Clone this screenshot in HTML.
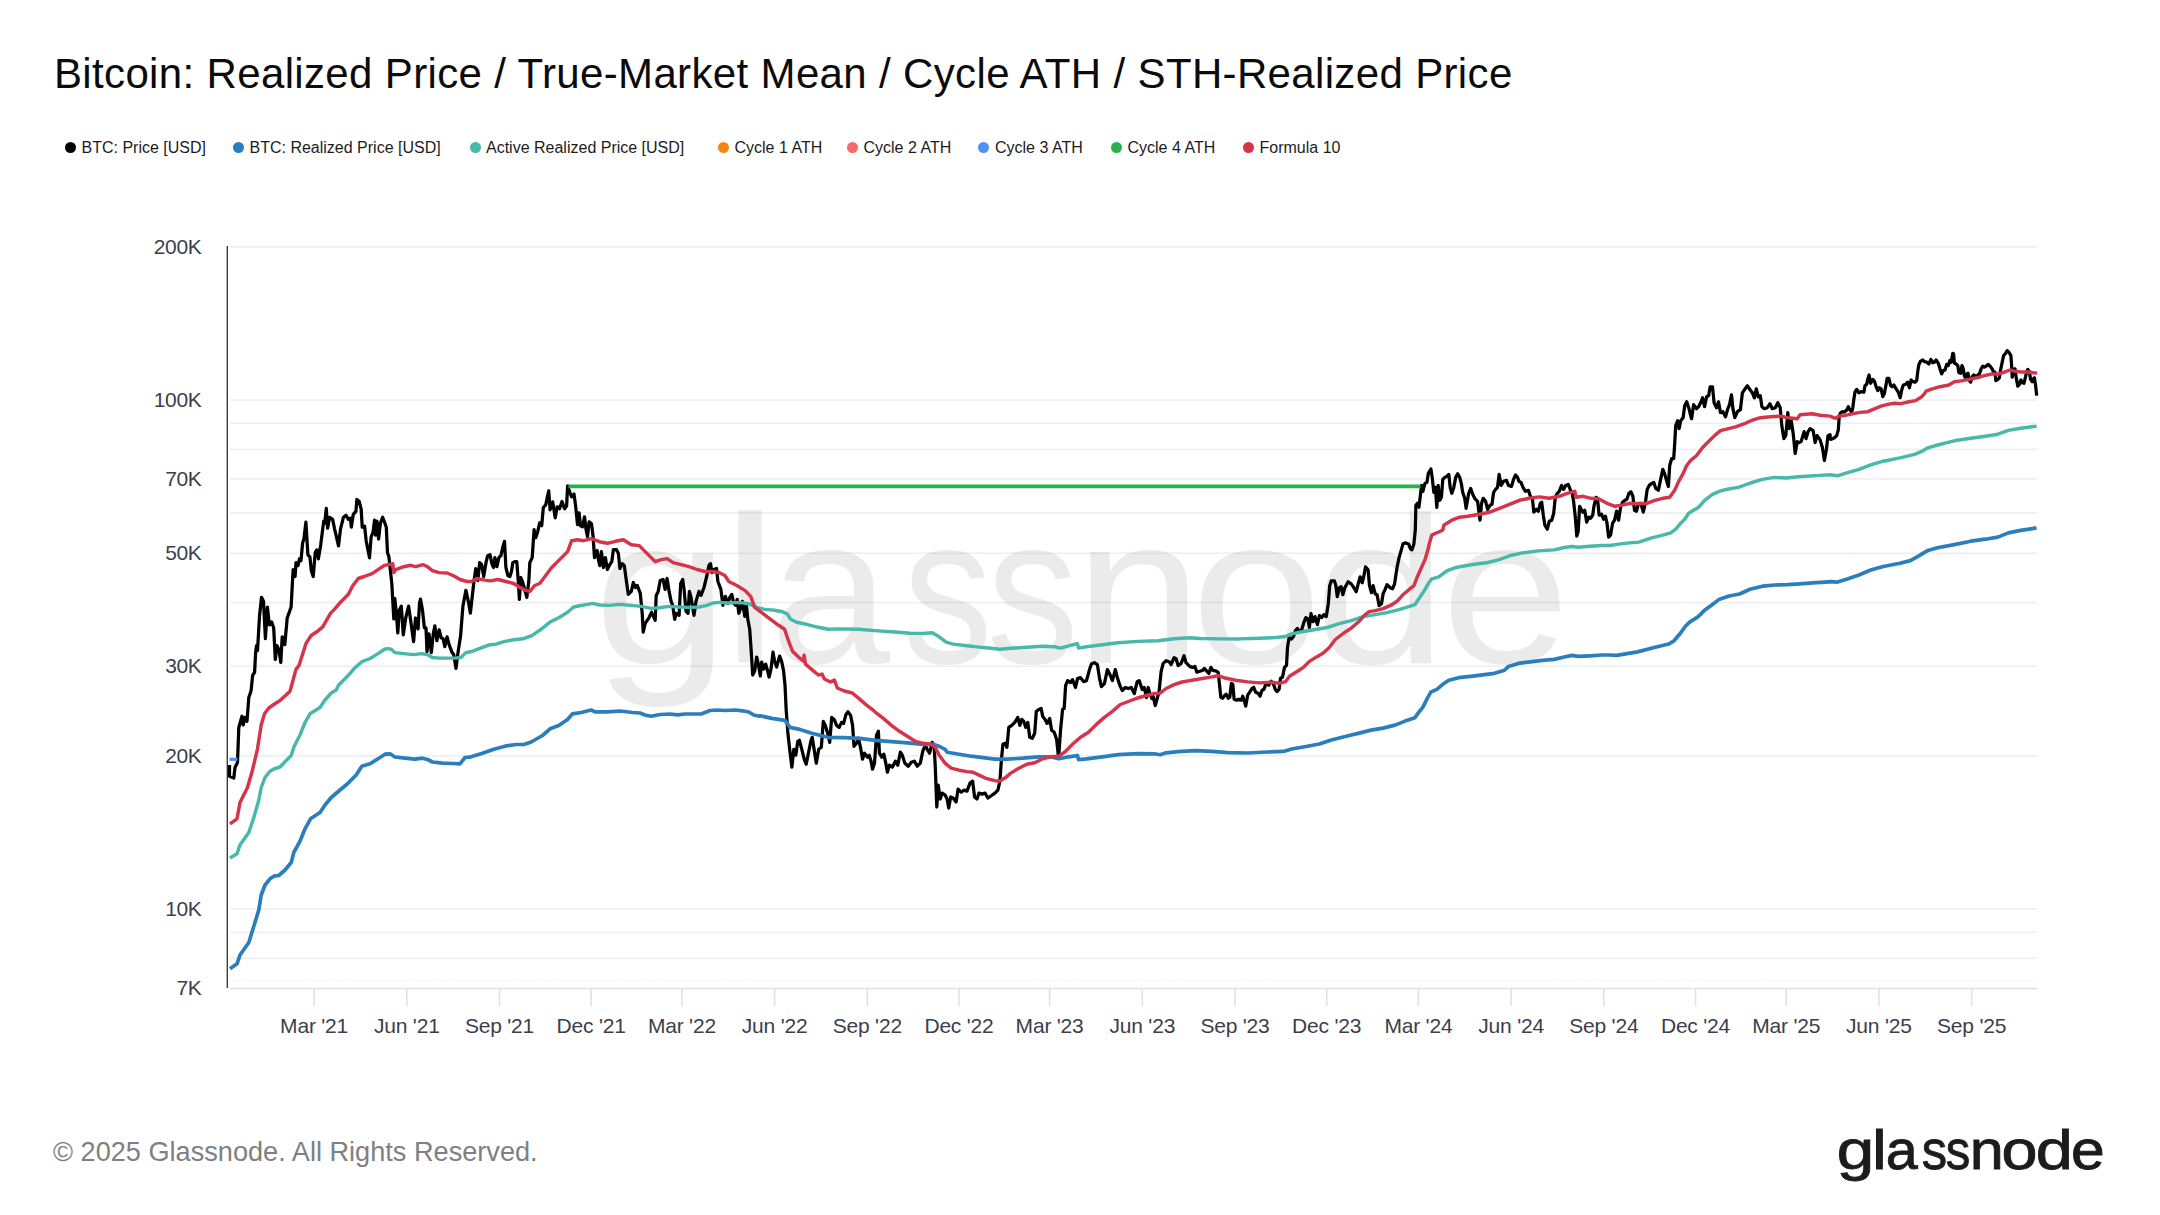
<!DOCTYPE html>
<html lang="en"><head><meta charset="utf-8"><title>Bitcoin: Realized Price / True-Market Mean / Cycle ATH / STH-Realized Price</title>
<style>
html,body{margin:0;padding:0;background:#fff;}
body{width:2160px;height:1215px;position:relative;overflow:hidden;font-family:"Liberation Sans",Arial,sans-serif;}
.title{position:absolute;left:54px;top:47px;font-size:42px;line-height:54px;color:#0b0b0b;letter-spacing:0.35px;white-space:nowrap;}
.legend{position:absolute;left:0;top:138px;height:20px;font-size:16px;line-height:20px;color:#1c1c1c;white-space:nowrap;}
.legend .it{position:absolute;top:0;}
.legend .dot{position:absolute;top:4px;width:11px;height:11px;border-radius:50%;}
.foot{position:absolute;left:53px;top:1135px;font-size:27.15px;line-height:34px;color:#808080;white-space:nowrap;}
.logo{position:absolute;left:1836px;top:1115px;font-size:58px;line-height:66px;color:#1b1b1b;white-space:nowrap;-webkit-text-stroke:1.1px #1b1b1b;}
svg{position:absolute;left:0;top:0;}
.yl{font-size:21px;letter-spacing:-0.4px;fill:#3a3f4b;text-anchor:end;}
.xl{font-size:21px;letter-spacing:-0.2px;fill:#3a3f4b;text-anchor:middle;}
.wm{font-size:209px;fill:#e9e9e9;}
</style></head><body>
<div class="title">Bitcoin: Realized Price / True-Market Mean / Cycle ATH / STH-Realized Price</div>
<div class="legend">
<span class="dot" style="left:64.5px;background:#000000"></span><span class="it" style="left:81.5px">BTC: Price [USD]</span>
<span class="dot" style="left:233.0px;background:#2b7ebc"></span><span class="it" style="left:249.5px">BTC: Realized Price [USD]</span>
<span class="dot" style="left:469.5px;background:#47b8a9"></span><span class="it" style="left:486px">Active Realized Price [USD]</span>
<span class="dot" style="left:718.0px;background:#f7860f"></span><span class="it" style="left:734.5px">Cycle 1 ATH</span>
<span class="dot" style="left:847.0px;background:#f56b6e"></span><span class="it" style="left:863.5px">Cycle 2 ATH</span>
<span class="dot" style="left:978.0px;background:#4f8ff7"></span><span class="it" style="left:995px">Cycle 3 ATH</span>
<span class="dot" style="left:1110.5px;background:#25b24c"></span><span class="it" style="left:1127.5px">Cycle 4 ATH</span>
<span class="dot" style="left:1242.5px;background:#d4354b"></span><span class="it" style="left:1259.5px">Formula 10</span>
</div>
<svg width="2160" height="1215" viewBox="0 0 2160 1215" font-family="Liberation Sans, Arial, sans-serif">
<text font-size="210" fill="#ebebeb" y="662.5"><tspan x="593.77" textLength="135.28" lengthAdjust="spacingAndGlyphs">g</tspan><tspan x="720.89" textLength="58.06" lengthAdjust="spacingAndGlyphs">l</tspan><tspan x="769.92" textLength="120.09" lengthAdjust="spacingAndGlyphs">a</tspan><tspan x="902.98" textLength="89.55" lengthAdjust="spacingAndGlyphs">s</tspan><tspan x="986.85" textLength="91.88" lengthAdjust="spacingAndGlyphs">s</tspan><tspan x="1075.07" textLength="126.93" lengthAdjust="spacingAndGlyphs">n</tspan><tspan x="1191.10" textLength="130.90" lengthAdjust="spacingAndGlyphs">o</tspan><tspan x="1313.96" textLength="132.78" lengthAdjust="spacingAndGlyphs">d</tspan><tspan x="1441.28" textLength="128.52" lengthAdjust="spacingAndGlyphs">e</tspan></text>
<rect x="230" y="246.03" width="1807" height="1.6" fill="#000" fill-opacity="0.068"/>
<rect x="230" y="399.25" width="1807" height="1.6" fill="#000" fill-opacity="0.068"/>
<rect x="230" y="422.54" width="1807" height="1.6" fill="#000" fill-opacity="0.068"/>
<rect x="230" y="448.58" width="1807" height="1.6" fill="#000" fill-opacity="0.068"/>
<rect x="230" y="478.10" width="1807" height="1.6" fill="#000" fill-opacity="0.068"/>
<rect x="230" y="512.17" width="1807" height="1.6" fill="#000" fill-opacity="0.068"/>
<rect x="230" y="552.47" width="1807" height="1.6" fill="#000" fill-opacity="0.068"/>
<rect x="230" y="601.80" width="1807" height="1.6" fill="#000" fill-opacity="0.068"/>
<rect x="230" y="665.40" width="1807" height="1.6" fill="#000" fill-opacity="0.068"/>
<rect x="230" y="755.03" width="1807" height="1.6" fill="#000" fill-opacity="0.068"/>
<rect x="230" y="908.25" width="1807" height="1.6" fill="#000" fill-opacity="0.068"/>
<rect x="230" y="931.54" width="1807" height="1.6" fill="#000" fill-opacity="0.068"/>
<rect x="230" y="957.58" width="1807" height="1.6" fill="#000" fill-opacity="0.068"/>
<line x1="230" y1="980.8" x2="2037" y2="980.8" stroke="#e6e6e6" stroke-width="1" stroke-dasharray="1 1.6"/>
<rect x="230" y="987.7" width="1807" height="1.6" fill="#e2e2e2"/>
<rect x="226.6" y="246" width="1.4" height="742" fill="#3c3c3c"/>
<rect x="313.3" y="988" width="1.6" height="18" fill="#e2e2e2"/>
<text class="xl" x="314.1" y="1032.8">Mar '21</text>
<rect x="406.0" y="988" width="1.6" height="18" fill="#e2e2e2"/>
<text class="xl" x="406.8" y="1032.8">Jun '21</text>
<rect x="498.7" y="988" width="1.6" height="18" fill="#e2e2e2"/>
<text class="xl" x="499.5" y="1032.8">Sep '21</text>
<rect x="590.4" y="988" width="1.6" height="18" fill="#e2e2e2"/>
<text class="xl" x="591.2" y="1032.8">Dec '21</text>
<rect x="681.1" y="988" width="1.6" height="18" fill="#e2e2e2"/>
<text class="xl" x="681.9" y="1032.8">Mar '22</text>
<rect x="773.8" y="988" width="1.6" height="18" fill="#e2e2e2"/>
<text class="xl" x="774.6" y="1032.8">Jun '22</text>
<rect x="866.5" y="988" width="1.6" height="18" fill="#e2e2e2"/>
<text class="xl" x="867.3" y="1032.8">Sep '22</text>
<rect x="958.2" y="988" width="1.6" height="18" fill="#e2e2e2"/>
<text class="xl" x="959.0" y="1032.8">Dec '22</text>
<rect x="1048.8" y="988" width="1.6" height="18" fill="#e2e2e2"/>
<text class="xl" x="1049.6" y="1032.8">Mar '23</text>
<rect x="1141.5" y="988" width="1.6" height="18" fill="#e2e2e2"/>
<text class="xl" x="1142.3" y="1032.8">Jun '23</text>
<rect x="1234.2" y="988" width="1.6" height="18" fill="#e2e2e2"/>
<text class="xl" x="1235.0" y="1032.8">Sep '23</text>
<rect x="1325.9" y="988" width="1.6" height="18" fill="#e2e2e2"/>
<text class="xl" x="1326.7" y="1032.8">Dec '23</text>
<rect x="1417.6" y="988" width="1.6" height="18" fill="#e2e2e2"/>
<text class="xl" x="1418.4" y="1032.8">Mar '24</text>
<rect x="1510.3" y="988" width="1.6" height="18" fill="#e2e2e2"/>
<text class="xl" x="1511.1" y="1032.8">Jun '24</text>
<rect x="1603.0" y="988" width="1.6" height="18" fill="#e2e2e2"/>
<text class="xl" x="1603.8" y="1032.8">Sep '24</text>
<rect x="1694.7" y="988" width="1.6" height="18" fill="#e2e2e2"/>
<text class="xl" x="1695.5" y="1032.8">Dec '24</text>
<rect x="1785.4" y="988" width="1.6" height="18" fill="#e2e2e2"/>
<text class="xl" x="1786.2" y="1032.8">Mar '25</text>
<rect x="1878.1" y="988" width="1.6" height="18" fill="#e2e2e2"/>
<text class="xl" x="1878.9" y="1032.8">Jun '25</text>
<rect x="1970.8" y="988" width="1.6" height="18" fill="#e2e2e2"/>
<text class="xl" x="1971.6" y="1032.8">Sep '25</text>
<text class="yl" x="201.3" y="253.8">200K</text>
<text class="yl" x="201.3" y="407.0">100K</text>
<text class="yl" x="201.3" y="485.8">70K</text>
<text class="yl" x="201.3" y="560.2">50K</text>
<text class="yl" x="201.3" y="673.1">30K</text>
<text class="yl" x="201.3" y="762.8">20K</text>
<text class="yl" x="201.3" y="916.0">10K</text>
<text class="yl" x="201.3" y="994.8">7K</text>
<path d="M229.5 765.0 L229.5 776.2 L233.8 778.0 L235.0 767.5 L237.5 762.5 L238.8 727.5 L242.0 716.2 L243.2 725.0 L245.0 717.5 L247.0 721.2 L248.8 697.5 L250.5 692.5 L251.2 690.0 L252.6 675.3 L254.6 672.3 L255.6 652.6 L256.5 645.7 L257.5 650.6 L259.5 616.0 L261.5 597.3 L263.5 601.2 L265.4 638.7 L267.4 607.1 L269.4 624.9 L271.7 622.0 L273.7 627.9 L275.3 659.5 L276.9 645.7 L278.9 649.6 L280.8 662.5 L282.2 636.8 L284.8 644.7 L287.2 618.0 L291.1 607.1 L293.1 569.6 L295.1 576.5 L296.0 562.7 L298.0 565.7 L299.4 558.8 L301.0 560.7 L302.6 543.0 L303.9 539.0 L305.9 522.2 L307.9 554.8 L309.9 556.8 L311.3 570.6 L313.2 576.5 L315.2 552.8 L316.8 549.9 L318.4 558.8 L320.7 544.9 L323.7 521.2 L324.7 523.2 L326.3 508.4 L327.6 528.1 L329.6 517.3 L332.6 519.3 L334.6 529.1 L336.5 537.0 L338.5 545.9 L340.5 529.1 L343.4 517.3 L346.0 515.3 L348.4 519.3 L350.4 518.3 L351.3 527.2 L353.3 514.3 L355.9 511.4 L356.9 499.5 L359.2 501.5 L361.2 509.4 L362.2 527.2 L364.6 526.2 L366.2 541.0 L369.5 557.8 L371.1 537.0 L373.1 532.1 L374.5 520.2 L375.6 535.1 L377.0 521.2 L378.6 539.0 L380.4 523.2 L382.6 517.3 L384.9 523.2 L386.3 527.2 L387.5 552.8 L388.9 556.8 L391.8 583.4 L393.8 619.0 L394.8 598.3 L396.4 614.1 L397.8 632.8 L399.3 610.1 L401.3 606.2 L403.3 634.8 L405.7 618.0 L408.6 606.2 L410.6 620.0 L413.6 641.7 L415.5 618.0 L418.1 628.9 L419.5 603.2 L420.5 599.2 L422.5 610.1 L424.4 627.9 L426.0 627.9 L427.0 651.6 L429.0 633.8 L431.3 652.6 L433.3 633.8 L434.9 625.9 L436.9 640.7 L439.2 629.9 L441.2 637.8 L443.2 638.7 L444.8 646.6 L447.1 636.8 L449.1 644.7 L452.1 652.6 L453.7 654.6 L456.0 668.4 L458.0 652.6 L460.6 635.8 L462.9 606.2 L465.9 590.4 L468.5 602.2 L470.4 613.1 L473.8 582.5 L475.8 568.6 L477.8 580.5 L479.7 562.7 L481.7 564.7 L483.7 576.5 L486.0 562.7 L487.6 555.8 L490.0 554.8 L491.9 563.6 L493.5 567.5 L494.9 557.6 L496.9 566.6 L498.9 557.6 L500.9 555.6 L502.9 546.6 L504.5 541.3 L505.9 567.5 L507.9 575.5 L509.9 576.5 L511.5 571.5 L512.8 562.6 L514.8 561.6 L516.8 561.6 L518.2 580.5 L519.4 599.4 L520.8 577.5 L522.4 581.5 L524.2 587.5 L526.8 597.4 L528.8 581.5 L529.8 562.6 L532.2 557.6 L534.1 529.7 L535.7 537.7 L537.7 531.7 L539.7 522.8 L541.7 525.7 L543.3 507.8 L545.7 504.8 L548.7 490.9 L550.1 509.8 L552.7 501.9 L555.2 517.8 L557.2 506.8 L559.6 508.8 L562.0 501.5 L564.6 508.8 L566.6 505.8 L567.6 485.9 L570.0 492.9 L571.6 496.9 L574.0 493.9 L575.6 505.8 L577.5 524.7 L579.1 512.8 L580.5 525.7 L582.5 526.7 L584.5 516.8 L586.1 529.7 L587.5 536.7 L589.1 521.8 L591.5 523.8 L593.1 536.7 L594.5 557.6 L597.1 550.6 L598.4 559.6 L599.8 565.6 L601.4 551.6 L603.4 567.5 L605.4 557.6 L607.4 569.5 L609.8 564.6 L611.8 561.6 L613.4 549.6 L616.4 549.6 L618.4 553.6 L619.9 568.5 L622.3 563.6 L624.3 565.6 L626.3 580.5 L628.3 594.4 L631.3 591.4 L633.3 582.5 L635.3 587.5 L637.3 585.5 L640.3 593.4 L642.2 613.3 L643.2 632.2 L645.2 623.3 L649.2 617.3 L651.6 612.3 L655.2 620.3 L656.2 595.4 L658.2 591.4 L660.2 580.5 L663.1 579.5 L665.1 589.4 L667.1 578.5 L669.1 591.4 L671.1 601.4 L672.7 605.4 L674.7 619.3 L676.1 613.3 L679.1 615.3 L680.7 583.5 L682.7 579.5 L684.1 589.4 L686.0 611.3 L688.0 613.3 L689.4 591.4 L691.0 597.4 L694.0 615.3 L696.0 601.4 L699.0 591.4 L701.0 595.4 L704.0 587.5 L706.9 575.5 L708.9 565.6 L710.5 563.6 L711.9 572.5 L713.9 569.5 L716.5 568.5 L717.9 581.5 L720.9 589.4 L722.9 605.4 L725.3 596.4 L727.8 603.4 L729.8 597.4 L731.8 594.4 L733.8 603.4 L735.8 605.4 L737.2 599.4 L738.8 613.3 L740.8 607.4 L742.4 601.4 L744.8 616.3 L746.4 605.4 L747.8 619.3 L749.7 629.3 L751.1 649.2 L752.7 675.0 L754.7 671.1 L756.7 657.1 L758.3 664.1 L760.3 676.0 L761.7 662.1 L763.7 669.1 L765.7 664.1 L767.7 671.1 L769.1 677.0 L771.0 669.1 L773.0 652.2 L774.6 661.1 L776.6 667.1 L779.6 656.1 L781.6 661.1 L783.6 671.1 L785.0 685.0 L786.2 710.1 L787.9 733.3 L789.9 751.2 L791.9 767.2 L793.8 749.3 L795.8 755.2 L797.8 741.3 L799.4 740.3 L801.8 749.3 L804.2 759.2 L806.2 764.2 L808.8 751.2 L810.8 741.3 L812.2 737.3 L814.1 749.3 L816.3 763.2 L818.7 749.3 L821.3 747.3 L823.3 721.4 L825.3 725.4 L827.7 733.3 L829.7 742.3 L831.7 717.4 L834.1 719.4 L836.6 725.4 L839.2 727.4 L841.6 722.4 L843.6 723.4 L846.0 714.4 L848.0 711.8 L850.6 715.4 L852.6 725.4 L854.0 746.3 L856.6 743.3 L858.5 738.3 L860.5 747.3 L862.5 759.2 L864.5 753.2 L867.5 757.2 L869.1 755.2 L871.1 761.2 L872.5 769.2 L874.5 763.2 L876.5 735.3 L878.4 731.3 L879.4 753.2 L881.8 757.2 L883.8 754.2 L885.8 763.2 L887.4 772.2 L889.4 765.2 L892.4 767.2 L895.4 761.2 L897.8 765.2 L900.3 752.2 L902.3 755.2 L904.9 763.2 L908.3 766.2 L911.3 762.2 L914.3 761.2 L917.3 766.2 L920.3 763.2 L922.8 751.2 L925.2 745.3 L927.2 749.3 L929.6 753.2 L932.2 742.3 L934.2 747.3 L935.2 765.2 L936.2 791.1 L936.8 807.0 L938.2 785.1 L940.2 799.0 L942.2 793.1 L945.1 795.0 L947.1 799.0 L948.7 808.0 L950.7 797.0 L953.1 798.0 L956.1 802.0 L958.1 789.1 L961.1 792.1 L964.1 790.1 L967.0 791.1 L970.0 783.1 L972.6 781.1 L974.6 797.0 L977.0 799.0 L979.0 793.1 L982.0 794.1 L985.0 793.1 L987.9 798.0 L990.9 796.0 L994.9 793.1 L997.9 790.1 L999.9 781.1 L1001.3 761.2 L1002.9 744.3 L1005.3 743.3 L1006.9 747.3 L1008.8 727.4 L1011.8 725.4 L1014.8 722.4 L1017.8 717.4 L1019.8 725.4 L1021.8 719.4 L1023.8 721.4 L1025.8 727.4 L1027.8 722.4 L1029.7 737.3 L1032.3 738.3 L1034.7 733.3 L1036.3 711.4 L1038.7 709.4 L1041.1 708.4 L1042.7 716.4 L1045.1 719.4 L1047.1 723.4 L1049.7 718.4 L1051.6 730.3 L1054.2 732.3 L1056.6 739.3 L1058.6 758.2 L1060.6 729.4 L1062.6 709.4 L1064.2 708.4 L1065.6 685.6 L1067.6 680.6 L1070.6 682.6 L1072.5 679.6 L1075.5 687.5 L1077.5 678.6 L1080.5 677.6 L1083.5 681.6 L1086.5 680.6 L1089.5 669.6 L1091.5 663.7 L1094.4 662.7 L1097.4 664.7 L1099.4 677.6 L1101.4 686.6 L1104.4 683.6 L1107.4 669.6 L1110.4 675.6 L1112.4 680.6 L1115.3 669.6 L1117.3 677.6 L1119.9 685.6 L1122.3 690.5 L1125.3 687.5 L1128.3 688.5 L1131.3 687.5 L1134.3 693.5 L1137.2 681.6 L1139.2 680.6 L1142.2 689.5 L1144.2 687.5 L1146.6 697.5 L1148.2 687.5 L1149.8 693.5 L1151.8 698.5 L1153.2 696.5 L1155.2 705.5 L1157.2 698.5 L1159.1 691.5 L1161.1 671.6 L1163.1 663.7 L1166.1 660.7 L1169.1 661.7 L1171.1 664.7 L1174.1 657.7 L1176.1 658.7 L1178.1 665.6 L1181.0 663.7 L1184.0 655.7 L1186.0 662.7 L1188.0 664.7 L1190.0 666.6 L1192.9 667.4 L1194.9 666.4 L1196.9 672.3 L1199.9 671.3 L1202.9 670.3 L1204.3 668.4 L1206.9 671.3 L1208.9 673.3 L1210.9 667.4 L1212.8 670.3 L1215.8 670.9 L1218.2 672.3 L1219.8 687.3 L1220.8 697.2 L1222.8 698.2 L1224.8 695.2 L1226.2 694.2 L1228.2 698.2 L1229.8 697.2 L1231.4 683.3 L1232.8 684.3 L1234.1 699.2 L1236.7 700.2 L1238.7 699.2 L1241.3 700.2 L1242.7 696.2 L1244.1 700.2 L1245.7 706.2 L1247.7 695.2 L1249.7 692.2 L1252.1 688.3 L1253.7 687.3 L1255.6 692.2 L1258.0 693.2 L1260.0 696.2 L1262.0 690.3 L1264.0 689.3 L1266.0 683.3 L1268.6 685.3 L1271.2 681.3 L1273.2 683.3 L1275.2 689.3 L1277.1 691.6 L1279.1 689.3 L1280.5 678.3 L1282.5 677.3 L1284.5 667.4 L1286.5 665.4 L1287.5 647.5 L1289.1 637.5 L1291.5 639.1 L1293.5 636.5 L1295.5 630.5 L1297.5 628.5 L1299.4 631.5 L1301.8 629.5 L1303.8 622.6 L1305.8 617.6 L1307.8 618.6 L1309.4 627.5 L1311.0 613.6 L1313.0 621.6 L1315.0 616.6 L1317.4 624.6 L1319.4 615.6 L1321.7 617.6 L1323.7 614.6 L1326.3 616.6 L1328.3 603.7 L1329.7 585.7 L1331.3 580.8 L1334.3 580.8 L1335.7 584.7 L1337.3 596.7 L1339.3 587.7 L1341.2 586.7 L1342.8 594.7 L1344.8 587.7 L1348.2 581.8 L1351.2 583.8 L1353.2 586.7 L1356.2 591.7 L1358.2 583.8 L1360.2 576.8 L1362.2 582.8 L1364.1 574.8 L1365.5 566.8 L1368.1 569.8 L1369.5 585.7 L1371.5 592.7 L1373.1 585.7 L1375.1 593.7 L1377.1 594.7 L1379.1 605.6 L1381.5 603.7 L1383.1 593.7 L1385.0 589.7 L1387.0 584.7 L1390.0 587.7 L1392.6 588.7 L1394.6 583.8 L1397.0 567.8 L1399.0 557.9 L1401.0 550.9 L1403.0 543.9 L1405.9 542.9 L1408.5 543.9 L1410.5 548.9 L1411.9 549.9 L1413.9 543.9 L1415.3 530.0 L1415.9 505.3 L1417.5 503.3 L1418.9 507.3 L1420.3 496.3 L1421.5 485.4 L1422.9 491.3 L1424.9 483.4 L1426.9 482.4 L1428.3 473.4 L1430.9 469.0 L1432.2 477.4 L1433.8 492.3 L1435.4 487.4 L1436.8 507.3 L1438.2 485.4 L1439.8 500.3 L1441.4 497.3 L1442.8 479.4 L1444.8 477.4 L1446.8 476.4 L1448.8 474.4 L1450.2 487.4 L1451.8 493.3 L1453.8 487.4 L1455.7 477.4 L1457.7 473.8 L1459.7 477.4 L1461.3 483.4 L1462.7 492.3 L1464.7 498.3 L1466.1 508.3 L1468.7 493.3 L1470.7 488.4 L1472.7 494.3 L1474.7 498.3 L1477.6 501.3 L1478.6 509.3 L1480.0 520.2 L1481.6 503.3 L1483.2 498.3 L1485.6 501.3 L1487.6 509.3 L1490.0 505.3 L1492.0 504.3 L1493.6 492.3 L1495.6 489.4 L1497.5 487.4 L1499.1 474.4 L1501.1 485.4 L1503.5 481.4 L1506.5 480.4 L1508.5 485.4 L1511.5 486.4 L1513.5 479.4 L1515.5 475.0 L1517.5 477.4 L1519.0 481.4 L1521.0 482.4 L1523.0 487.4 L1525.4 491.3 L1528.4 490.3 L1530.4 496.3 L1532.4 498.3 L1533.8 512.2 L1536.4 509.3 L1538.4 511.2 L1540.3 503.3 L1541.7 502.3 L1543.3 515.2 L1544.9 525.2 L1547.3 529.2 L1549.3 521.2 L1551.7 520.2 L1553.7 513.2 L1555.3 497.3 L1557.3 493.3 L1559.3 491.3 L1561.6 485.4 L1563.6 489.4 L1565.6 485.4 L1568.2 484.4 L1570.2 489.4 L1572.2 493.3 L1573.6 501.3 L1575.2 516.2 L1576.8 536.1 L1578.2 531.2 L1579.6 506.3 L1581.2 509.3 L1582.8 512.2 L1584.7 510.3 L1586.7 522.2 L1588.7 517.2 L1590.7 518.2 L1592.7 515.2 L1594.1 505.3 L1596.1 497.3 L1597.5 498.3 L1599.1 515.2 L1601.5 514.2 L1603.5 519.2 L1605.4 516.2 L1607.0 523.2 L1608.6 537.1 L1610.6 535.1 L1612.6 523.2 L1614.6 520.2 L1616.6 511.2 L1618.6 520.2 L1620.6 507.3 L1622.6 502.3 L1625.0 500.3 L1626.9 499.3 L1628.9 493.3 L1630.9 491.7 L1632.9 496.3 L1634.5 510.3 L1636.5 511.2 L1638.5 503.3 L1640.9 503.3 L1643.3 512.2 L1645.3 503.3 L1647.2 489.4 L1649.2 485.4 L1651.8 483.4 L1653.8 482.4 L1655.8 488.4 L1658.4 490.3 L1660.4 480.4 L1662.8 469.4 L1664.8 474.4 L1666.8 481.4 L1668.4 486.4 L1669.7 465.5 L1671.7 458.5 L1673.7 458.5 L1674.7 443.6 L1675.7 425.6 L1677.7 420.7 L1679.1 428.6 L1680.7 420.7 L1683.1 417.7 L1684.7 405.7 L1686.7 401.8 L1688.7 407.7 L1690.2 413.7 L1691.6 418.7 L1693.6 404.7 L1696.6 408.7 L1698.6 406.7 L1700.6 402.8 L1702.6 397.8 L1704.6 406.7 L1706.6 396.8 L1708.6 395.8 L1710.2 386.8 L1712.5 386.8 L1714.1 402.8 L1716.5 407.7 L1718.5 401.8 L1720.5 412.7 L1722.9 411.7 L1725.5 416.7 L1727.5 409.7 L1729.5 404.7 L1731.5 394.8 L1732.9 408.7 L1734.8 417.7 L1737.4 411.7 L1740.4 409.7 L1742.4 392.8 L1744.4 389.8 L1747.4 385.8 L1750.0 389.8 L1752.4 392.8 L1754.4 397.8 L1756.3 388.8 L1758.3 396.8 L1760.3 395.8 L1761.9 406.7 L1764.3 408.7 L1767.3 407.7 L1769.9 403.8 L1772.3 408.7 L1775.3 407.7 L1777.8 402.8 L1780.2 407.7 L1781.8 425.6 L1783.8 438.6 L1785.8 435.6 L1787.8 412.7 L1789.2 428.6 L1791.2 420.7 L1793.2 433.6 L1795.2 453.5 L1797.2 441.6 L1799.1 442.6 L1801.1 441.6 L1804.1 431.6 L1806.1 438.6 L1808.1 431.6 L1810.1 428.6 L1813.1 430.6 L1815.1 442.6 L1817.1 435.6 L1820.0 439.6 L1822.4 447.5 L1824.4 460.5 L1826.4 449.5 L1828.0 435.6 L1830.0 434.6 L1830.6 439.4 L1832.2 438.9 L1834.4 437.8 L1836.7 435.6 L1838.3 430.0 L1839.1 417.8 L1840.2 413.3 L1842.2 411.7 L1844.4 412.2 L1846.7 410.0 L1848.3 406.7 L1850.0 410.0 L1851.7 412.2 L1852.8 407.8 L1853.9 398.9 L1855.0 392.2 L1856.7 389.4 L1858.9 392.8 L1861.1 391.7 L1863.9 392.2 L1865.0 385.6 L1866.7 384.4 L1867.8 378.9 L1869.1 375.0 L1870.6 383.3 L1872.8 379.4 L1874.4 381.1 L1876.1 386.7 L1877.8 390.6 L1879.4 387.8 L1881.1 388.9 L1882.8 396.7 L1884.4 393.3 L1886.1 384.4 L1887.2 378.3 L1888.9 378.3 L1890.6 385.6 L1892.2 386.7 L1893.9 385.0 L1896.1 388.9 L1898.3 392.2 L1900.2 397.8 L1901.7 390.0 L1903.3 385.0 L1905.6 384.4 L1907.6 382.2 L1909.4 387.8 L1911.1 380.0 L1912.8 381.7 L1915.0 382.2 L1916.7 380.6 L1917.8 371.1 L1918.9 364.4 L1920.6 361.1 L1922.8 360.0 L1924.4 361.7 L1926.7 362.2 L1928.9 363.9 L1930.9 359.4 L1932.8 362.8 L1934.4 362.2 L1936.1 360.0 L1938.3 363.3 L1940.0 368.9 L1941.7 373.9 L1943.3 370.6 L1945.0 370.0 L1946.7 364.4 L1948.3 365.6 L1949.8 360.6 L1951.1 362.2 L1952.8 353.3 L1953.6 353.9 L1954.4 363.3 L1956.1 363.9 L1957.8 365.6 L1958.9 372.8 L1960.6 373.3 L1962.0 365.6 L1963.1 368.3 L1964.4 376.1 L1965.6 377.8 L1966.9 373.9 L1968.0 373.3 L1969.1 380.0 L1970.6 382.2 L1972.2 376.7 L1973.9 375.0 L1975.6 376.7 L1977.2 375.6 L1979.4 373.9 L1981.1 368.9 L1982.8 366.1 L1984.4 367.2 L1986.1 366.1 L1988.3 364.4 L1990.0 366.1 L1992.2 368.9 L1993.9 372.8 L1995.0 372.2 L1995.8 380.6 L1997.8 379.4 L1999.4 377.8 L2000.6 370.0 L2002.2 362.2 L2003.6 355.6 L2005.6 353.3 L2007.2 350.6 L2008.9 352.2 L2010.9 355.6 L2011.7 366.7 L2012.2 377.2 L2013.6 369.4 L2015.0 368.9 L2016.4 378.9 L2017.8 386.1 L2019.4 384.4 L2020.9 380.0 L2022.2 382.8 L2023.9 383.3 L2025.6 376.7 L2026.7 371.7 L2027.8 369.4 L2029.4 371.7 L2030.6 379.4 L2032.2 381.7 L2033.3 378.9 L2034.4 377.8 L2035.6 385.6 L2036.7 395.6" fill="none" stroke="#000" stroke-width="3.25" stroke-linejoin="round" stroke-linecap="butt"/>
<path d="M230.0 968.8 L237.0 963.8 L240.0 955.0 L248.8 942.5 L253.8 926.2 L258.8 910.0 L261.2 895.0 L265.0 885.0 L270.0 878.8 L273.8 876.2 L278.8 875.5 L285.0 870.0 L291.2 862.5 L293.8 852.5 L300.0 841.2 L305.0 828.8 L310.5 818.8 L320.0 812.5 L325.0 805.0 L331.2 797.5 L340.0 790.0 L347.5 783.8 L356.2 775.0 L361.8 766.2 L370.0 763.8 L380.0 757.5 L385.0 754.2 L390.0 753.8 L395.0 757.0 L405.0 758.2 L415.0 759.2 L422.5 758.2 L427.5 759.5 L432.5 762.0 L442.5 763.2 L452.5 763.5 L460.0 763.8 L465.0 757.5 L471.2 756.8 L482.5 753.2 L493.8 749.2 L505.0 746.2 L516.2 744.5 L523.8 744.5 L531.2 742.0 L542.5 735.5 L550.0 728.8 L558.8 725.5 L567.5 719.5 L572.5 713.8 L581.2 712.5 L591.2 710.0 L595.0 711.8 L607.5 711.8 L620.0 711.0 L632.5 712.5 L640.0 713.0 L645.0 715.0 L651.2 716.2 L660.0 714.5 L670.0 714.0 L677.5 714.8 L685.0 714.0 L701.2 714.0 L710.0 710.5 L717.5 710.0 L725.0 710.5 L735.0 710.0 L742.5 710.8 L748.8 712.0 L753.8 715.0 L759.5 716.2 L760.0 715.8 L771.9 718.4 L784.9 720.4 L789.9 727.4 L799.8 729.4 L811.8 733.3 L827.7 737.3 L843.6 737.7 L859.5 738.3 L875.5 740.3 L891.4 741.7 L907.3 742.9 L923.2 744.3 L933.2 744.3 L939.2 746.3 L945.1 749.3 L947.1 752.2 L959.1 754.2 L971.0 756.2 L983.0 757.6 L994.9 759.2 L1006.9 759.2 L1022.8 758.2 L1038.7 756.8 L1050.6 756.8 L1058.6 758.8 L1066.6 757.2 L1077.5 755.6 L1078.5 759.6 L1086.5 758.8 L1102.4 756.8 L1118.3 754.6 L1138.2 753.6 L1154.2 753.8 L1160.1 754.8 L1166.1 752.8 L1178.1 751.6 L1190.0 750.9 L1195.9 750.6 L1211.9 751.4 L1227.8 752.6 L1247.7 753.0 L1267.6 752.0 L1283.5 751.4 L1291.5 749.0 L1303.4 747.0 L1319.4 744.0 L1331.3 740.0 L1347.2 736.0 L1359.2 733.1 L1371.1 730.1 L1383.1 728.1 L1395.0 725.1 L1405.0 721.1 L1414.9 717.7 L1418.9 712.2 L1422.9 707.2 L1426.9 699.2 L1430.8 692.2 L1436.8 689.3 L1442.8 684.3 L1448.8 680.3 L1458.7 677.7 L1470.6 676.3 L1482.6 674.9 L1494.5 673.3 L1504.5 670.3 L1508.5 666.4 L1518.4 663.4 L1530.4 661.8 L1542.3 660.4 L1554.3 659.4 L1564.2 657.0 L1572.2 655.4 L1578.1 656.4 L1590.1 655.8 L1602.0 655.0 L1610.0 655.0 L1616.7 655.4 L1637.5 651.9 L1654.2 647.5 L1668.8 644.0 L1674.0 640.8 L1680.2 633.5 L1685.4 626.2 L1689.6 622.1 L1697.9 616.9 L1704.2 610.6 L1712.5 604.4 L1718.8 599.6 L1729.2 596.0 L1739.6 594.0 L1750.0 589.2 L1762.5 586.2 L1775.0 585.0 L1787.5 584.6 L1800.0 583.8 L1812.5 582.9 L1825.0 582.1 L1831.2 581.7 L1837.5 582.1 L1845.8 579.4 L1858.3 575.2 L1870.8 570.0 L1883.3 566.5 L1900.0 563.3 L1910.4 560.6 L1918.8 555.8 L1927.1 550.8 L1937.5 547.7 L1954.2 544.6 L1970.8 541.2 L1985.4 539.2 L1997.9 537.1 L2008.3 532.9 L2020.8 530.4 L2036.5 527.9" fill="none" stroke="#2b7ebc" stroke-width="3.7" stroke-linejoin="round" stroke-linecap="butt"/>
<path d="M230.0 858.0 L237.0 853.8 L240.0 845.0 L248.8 832.5 L253.8 817.5 L258.8 800.0 L261.2 787.5 L265.0 777.5 L270.0 771.2 L273.8 769.0 L280.0 767.0 L285.5 761.2 L291.2 755.5 L294.2 746.2 L300.0 735.0 L305.0 722.5 L310.0 713.8 L320.0 707.5 L325.0 700.0 L331.2 693.0 L336.2 690.0 L338.5 685.2 L348.4 675.3 L354.3 668.4 L362.2 661.5 L370.1 658.5 L378.0 653.6 L384.9 649.0 L388.9 648.6 L391.8 649.6 L394.8 652.6 L403.7 653.6 L413.6 654.6 L421.5 653.6 L427.4 654.6 L432.3 657.5 L439.2 658.1 L447.1 658.1 L455.0 658.1 L461.0 657.5 L465.9 652.6 L472.8 651.2 L480.7 648.0 L490.0 644.7 L495.9 644.2 L503.9 641.6 L513.8 639.8 L522.8 638.8 L531.8 635.6 L539.7 630.3 L549.7 622.3 L559.6 617.3 L567.6 612.3 L573.6 607.0 L579.5 605.8 L587.5 604.4 L592.5 603.4 L599.4 605.0 L609.4 605.4 L619.4 604.4 L631.3 605.4 L641.2 606.4 L651.2 608.4 L659.2 607.8 L669.1 606.4 L679.1 607.0 L689.0 607.4 L699.0 607.0 L706.9 605.4 L712.9 603.0 L718.9 602.4 L728.8 603.0 L738.8 602.4 L748.8 603.8 L756.7 607.4 L764.7 609.4 L774.6 610.3 L782.6 611.7 L787.6 614.3 L790.6 619.3 L796.5 622.3 L806.5 624.3 L818.4 627.3 L828.4 629.3 L838.3 628.9 L858.2 629.3 L878.1 630.9 L898.1 632.2 L910.0 633.2 L923.2 633.4 L932.2 632.8 L939.2 636.8 L946.1 642.2 L953.1 644.1 L967.0 645.7 L979.0 647.1 L990.9 648.3 L999.9 649.3 L1010.8 648.3 L1026.8 647.3 L1042.7 646.3 L1054.6 646.7 L1060.6 648.1 L1070.6 645.3 L1077.5 643.8 L1078.5 648.1 L1086.5 646.7 L1102.4 644.7 L1118.3 642.8 L1138.2 641.4 L1158.1 640.8 L1174.1 638.8 L1190.0 637.8 L1199.9 638.5 L1219.8 638.9 L1239.7 638.9 L1259.6 638.3 L1275.6 637.5 L1285.5 636.5 L1291.5 633.9 L1303.4 631.5 L1315.4 629.5 L1327.3 627.5 L1339.3 623.6 L1351.2 620.6 L1363.1 616.6 L1375.1 614.6 L1387.0 612.6 L1399.0 609.6 L1408.9 606.6 L1414.9 604.7 L1418.9 598.7 L1424.9 589.7 L1428.8 582.8 L1431.8 578.8 L1438.8 576.8 L1446.8 570.8 L1454.7 567.8 L1462.7 566.2 L1474.6 564.2 L1486.6 562.8 L1498.5 559.9 L1510.5 555.5 L1522.4 552.9 L1538.3 550.9 L1554.3 549.9 L1564.2 547.5 L1572.2 546.5 L1578.1 547.3 L1590.1 546.3 L1602.0 545.5 L1610.0 545.5 L1619.0 544.1 L1626.9 543.1 L1638.9 542.1 L1650.8 538.1 L1662.8 535.1 L1670.7 532.8 L1675.7 529.2 L1680.7 523.2 L1684.7 519.2 L1688.7 513.2 L1693.6 510.3 L1698.6 507.3 L1704.6 500.3 L1712.5 494.3 L1720.5 490.9 L1728.5 489.0 L1738.4 487.4 L1750.4 483.0 L1762.3 479.4 L1774.3 477.4 L1786.2 478.0 L1798.1 476.8 L1810.1 476.0 L1820.0 475.4 L1830.0 474.8 L1837.5 475.8 L1845.8 473.1 L1858.3 469.6 L1870.8 464.8 L1883.3 461.2 L1900.0 457.9 L1914.6 454.4 L1922.9 450.8 L1927.1 448.1 L1937.5 445.0 L1954.2 440.8 L1970.8 438.3 L1985.4 436.2 L1997.9 434.2 L2008.3 430.4 L2020.8 428.3 L2036.5 426.2" fill="none" stroke="#47b8a9" stroke-width="3.45" stroke-linejoin="round" stroke-linecap="butt"/>
<line x1="229.5" y1="759.3" x2="237.5" y2="759.3" stroke="#4f8ff7" stroke-width="3.2"/>
<line x1="568.5" y1="486.4" x2="1420.5" y2="486.4" stroke="#25b24c" stroke-width="3.6"/>
<path d="M230.0 823.8 L237.0 818.8 L240.0 802.5 L247.5 787.5 L252.5 770.0 L257.5 748.8 L261.2 725.0 L264.5 713.8 L268.8 708.0 L273.8 704.5 L280.0 700.5 L285.5 695.5 L290.0 691.2 L296.0 669.4 L299.0 665.4 L305.9 643.7 L310.9 635.8 L316.8 631.8 L322.7 626.9 L330.6 613.1 L334.6 609.1 L340.5 602.2 L348.4 594.3 L352.3 586.4 L358.3 578.5 L364.2 576.5 L372.1 573.6 L378.0 569.6 L383.9 565.7 L387.9 564.7 L392.8 563.7 L393.8 572.6 L395.8 569.6 L403.7 566.7 L410.6 565.3 L415.5 566.7 L423.4 564.7 L427.4 566.7 L432.3 570.6 L439.2 572.6 L447.1 573.0 L453.1 575.5 L460.0 579.5 L466.9 581.5 L471.8 581.5 L476.8 578.5 L484.7 580.1 L490.0 580.9 L497.9 579.5 L505.9 581.5 L513.8 583.5 L519.8 587.5 L525.8 590.4 L529.8 591.4 L534.7 585.5 L539.7 583.5 L545.7 575.5 L551.7 567.5 L559.6 559.6 L567.6 551.6 L571.6 540.7 L577.5 539.7 L583.5 540.7 L591.5 538.7 L599.4 541.7 L607.4 543.3 L615.4 541.3 L623.3 539.7 L631.3 544.7 L639.3 545.6 L645.2 551.6 L651.2 557.6 L655.2 561.6 L661.2 559.6 L667.1 558.6 L673.1 562.6 L681.1 564.6 L689.0 566.6 L697.0 569.5 L705.0 571.5 L712.9 571.5 L718.9 572.5 L724.9 575.5 L728.8 581.5 L736.8 585.5 L744.8 590.4 L750.7 596.4 L754.7 607.4 L762.7 613.3 L770.6 619.3 L778.6 625.3 L784.6 629.3 L788.6 641.2 L792.5 651.2 L798.5 657.1 L803.5 661.1 L804.1 655.1 L805.5 664.1 L812.5 670.1 L818.4 675.0 L822.0 674.1 L824.4 679.0 L830.4 682.0 L834.4 680.0 L837.3 688.0 L844.3 691.0 L852.3 693.0 L858.2 697.9 L866.2 704.9 L873.2 710.1 L875.5 712.4 L883.4 718.4 L891.4 725.4 L899.4 731.3 L907.3 736.3 L915.3 741.3 L923.2 743.3 L931.2 744.3 L935.2 747.3 L939.2 755.2 L945.1 763.2 L951.1 768.2 L959.1 770.2 L967.0 771.6 L973.0 772.2 L979.0 775.1 L986.9 778.7 L994.9 780.7 L999.9 781.1 L1004.9 778.1 L1010.8 773.1 L1018.8 768.2 L1026.8 764.2 L1034.7 762.8 L1042.7 758.8 L1050.6 756.8 L1058.6 756.2 L1064.6 752.2 L1072.5 744.3 L1080.5 737.3 L1088.5 732.3 L1096.4 724.4 L1104.4 717.4 L1112.4 711.4 L1120.3 704.5 L1128.3 701.5 L1136.2 698.5 L1146.2 695.5 L1154.2 693.5 L1160.1 693.1 L1166.1 688.5 L1174.1 684.6 L1182.0 682.0 L1190.0 680.6 L1191.9 680.3 L1203.9 678.3 L1211.9 676.9 L1217.8 675.7 L1223.8 677.7 L1235.7 680.3 L1247.7 681.9 L1259.6 682.9 L1271.6 682.3 L1279.5 683.3 L1285.5 681.7 L1289.5 676.3 L1297.5 671.3 L1303.4 667.4 L1309.4 661.4 L1317.4 656.4 L1323.3 653.0 L1329.3 647.5 L1335.3 639.5 L1343.2 633.5 L1351.2 628.1 L1359.2 621.2 L1365.1 614.6 L1369.1 611.6 L1375.1 610.6 L1383.1 608.6 L1391.0 605.2 L1397.0 601.3 L1403.0 594.7 L1408.9 589.7 L1413.9 585.7 L1416.9 577.8 L1420.9 568.8 L1424.9 559.9 L1427.8 549.9 L1429.8 541.9 L1431.8 535.0 L1434.8 533.6 L1438.8 532.0 L1442.8 530.0 L1443.8 525.2 L1451.8 520.2 L1459.7 517.2 L1467.7 516.2 L1479.6 514.2 L1489.6 512.2 L1499.5 508.3 L1509.5 504.3 L1519.4 500.3 L1529.4 498.3 L1539.4 496.9 L1549.3 498.3 L1559.3 496.3 L1567.2 493.3 L1574.8 491.3 L1576.2 497.3 L1583.1 496.3 L1591.1 498.3 L1599.1 498.9 L1607.0 503.3 L1615.0 506.3 L1623.0 504.9 L1630.9 503.3 L1638.9 503.7 L1646.9 503.3 L1654.8 500.3 L1662.8 498.3 L1669.7 497.3 L1674.7 490.3 L1678.7 481.4 L1682.7 474.4 L1686.7 465.5 L1690.6 460.5 L1696.6 455.5 L1702.6 447.5 L1708.6 441.6 L1714.5 435.6 L1720.5 430.6 L1728.5 428.6 L1736.4 426.6 L1744.4 423.7 L1752.4 420.1 L1760.3 417.7 L1770.3 416.7 L1780.2 416.3 L1788.2 417.7 L1797.2 418.7 L1800.1 414.7 L1812.1 413.7 L1820.0 415.3 L1830.0 416.1 L1831.1 416.7 L1835.6 418.3 L1838.9 416.1 L1844.4 415.6 L1852.2 413.9 L1860.0 412.4 L1867.8 411.7 L1874.4 408.9 L1881.1 406.1 L1887.8 404.4 L1894.4 403.3 L1901.1 403.6 L1907.8 402.0 L1915.6 400.6 L1921.1 397.2 L1924.4 393.9 L1926.1 391.1 L1932.2 388.9 L1940.0 386.7 L1948.9 385.0 L1954.4 381.7 L1961.1 380.9 L1968.9 379.4 L1976.7 377.8 L1984.4 375.6 L1992.2 373.9 L1998.9 373.9 L2004.4 372.2 L2010.0 370.0 L2014.4 371.1 L2021.1 372.0 L2027.8 372.0 L2033.3 372.8 L2037.2 373.1" fill="none" stroke="#d4354b" stroke-width="3.45" stroke-linejoin="round" stroke-linecap="butt"/>
<text font-size="56.3" fill="#1c1c1c" stroke="#1c1c1c" stroke-width="0.9" y="1169.2"><tspan x="1836.72" textLength="37.45" lengthAdjust="spacingAndGlyphs">g</tspan><tspan x="1872.09" textLength="14.78" lengthAdjust="spacingAndGlyphs">l</tspan><tspan x="1885.73" textLength="31.99" lengthAdjust="spacingAndGlyphs">a</tspan><tspan x="1921.73" textLength="25.35" lengthAdjust="spacingAndGlyphs">s</tspan><tspan x="1945.77" textLength="24.54" lengthAdjust="spacingAndGlyphs">s</tspan><tspan x="1969.65" textLength="33.98" lengthAdjust="spacingAndGlyphs">n</tspan><tspan x="2001.43" textLength="35.94" lengthAdjust="spacingAndGlyphs">o</tspan><tspan x="2035.65" textLength="37.08" lengthAdjust="spacingAndGlyphs">d</tspan><tspan x="2070.90" textLength="33.68" lengthAdjust="spacingAndGlyphs">e</tspan></text>
</svg>
<div class="foot">© 2025 Glassnode. All Rights Reserved.</div>
</body></html>
